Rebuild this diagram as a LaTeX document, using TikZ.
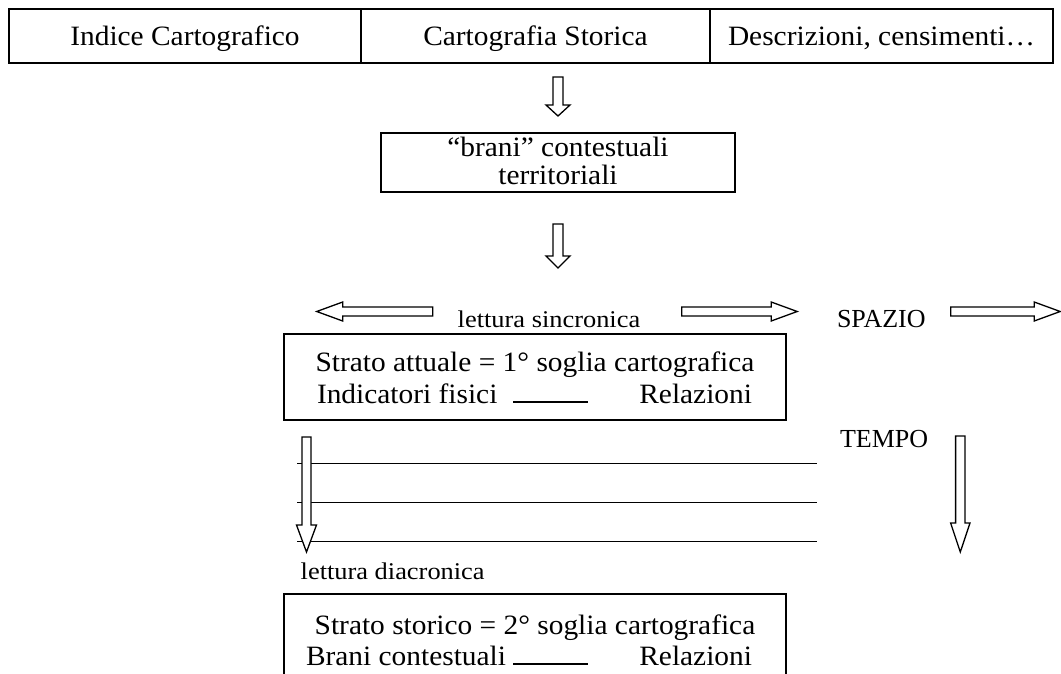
\documentclass[tikz,border=0pt]{standalone}
\usepackage{fontspec}
\setmainfont{Liberation Serif}
\newfontfamily\mainf[FakeStretch=1.05]{Liberation Serif}
\newfontfamily\lblf[FakeStretch=1.1]{Liberation Serif}
\tikzset{
  every node/.style={inner sep=0pt, outer sep=0pt},
  box/.style={draw, line width=2.4pt},
  blk/.style={draw, line width=1.3pt, fill=white, line join=miter},
  layer/.style={line width=1.8pt},
  rulestyle/.style={line width=1.5pt},
  txt/.style={font=\mainf\fontsize{28}{28}\selectfont},
  lbl/.style={font=\lblf\fontsize{24}{26}\selectfont},
  capslbl/.style={font=\fontsize{26}{28}\selectfont},
}
% #1,#2 tail centre; #3 length; #4 angle; #5 half shaft; #6 half head; #7 head length
\newcommand{\blockarrow}[7]{%
  \draw[blk, shift={(#1,#2)}, rotate=#4]
    (0,-#5) -- (#3-#7,-#5) -- (#3-#7,-#6) -- (#3,0) -- (#3-#7,#6) -- (#3-#7,#5) -- (0,#5) -- cycle;}
\begin{document}
\begin{tikzpicture}[x=1pt,y=-1pt]
\path[use as bounding box] (0,0) rectangle (1061,673);

% top row
\node[box, minimum width=352pt, minimum height=54pt, anchor=north west] (idx) at (9,9) {};
\node[box, minimum width=349pt, minimum height=54pt, anchor=north west] (carto) at (361,9) {};
\node[box, minimum width=343pt, minimum height=54pt, anchor=north west] (descr) at (710,9) {};
\node[txt, anchor=base] (idxt) at (185,45) {Indice Cartografico};
\node[txt, anchor=base] (cartot) at (535.5,45) {Cartografia Storica};
\node[txt, anchor=base] (descrt) at (881.5,45) {Descrizioni, censimenti…};

% arrow down 1
\blockarrow{558}{77}{39}{-90}{5}{12}{11}

% brani box
\node[box, minimum width=354pt, minimum height=59pt, anchor=north] (brani) at (558,133) {};
\node[txt, anchor=base] (brani1) at (558,156) {“brani” contestuali};
\node[txt, anchor=base] (brani2) at (558,184) {territoriali};

% arrow down 2
\blockarrow{558}{224}{44}{-90}{5}{12}{12}

% synchronic reading
\blockarrow{432.7}{311.5}{116}{180}{4.5}{9.5}{26}
\node[lbl, anchor=base] (sinc) at (549,327) {lettura sincronica};
\blockarrow{681.7}{311.5}{115.5}{0}{4.5}{9.5}{26}
\node[capslbl, anchor=base west] (spazio) at (837,327) {SPAZIO};
\blockarrow{950.7}{311.5}{109.5}{0}{4.5}{9.5}{26}

% current layer box
\node[box, minimum width=502pt, minimum height=86pt, anchor=north west] (attuale) at (284,334) {};
\node[txt, anchor=base] (att1) at (535,371) {Strato attuale = 1° soglia cartografica};
\node[txt, anchor=base west] (ind) at (317,403) {Indicatori fisici};
\coordinate (r1a) at (513,402);
\coordinate (r1b) at (588,402);
\draw[rulestyle] (r1a) -- (r1b);
\node[txt, anchor=base east] (rel1) at (752,403) {Relazioni};

% layers
\coordinate (l1a) at (297,463.5); \coordinate (l1b) at (817,463.5);
\coordinate (l2a) at (297,502.5); \coordinate (l2b) at (817,502.5);
\coordinate (l3a) at (297,541.5); \coordinate (l3b) at (817,541.5);
\draw[layer] (l1a) -- (l1b);
\draw[layer] (l2a) -- (l2b);
\draw[layer] (l3a) -- (l3b);
\blockarrow{306.5}{437}{115}{-90}{4.5}{10}{27}

\node[capslbl, anchor=base west] (tempo) at (840,447) {TEMPO};
\blockarrow{960.3}{436}{116}{-90}{4.7}{9.7}{29}

\node[lbl, anchor=base west] (diac) at (300.7,579) {lettura diacronica};

% historic layer box (cut at bottom)
\node[box, minimum width=502pt, minimum height=120pt, anchor=north west] (storico) at (284,594) {};
\node[txt, anchor=base] (sto1) at (535,634) {Strato storico = 2° soglia cartografica};
\node[txt, anchor=base west] (bra) at (306,665) {Brani contestuali};
\coordinate (r2a) at (513,664);
\coordinate (r2b) at (588,664);
\draw[rulestyle] (r2a) -- (r2b);
\node[txt, anchor=base east] (rel2) at (752,665) {Relazioni};
\end{tikzpicture}
\end{document}
